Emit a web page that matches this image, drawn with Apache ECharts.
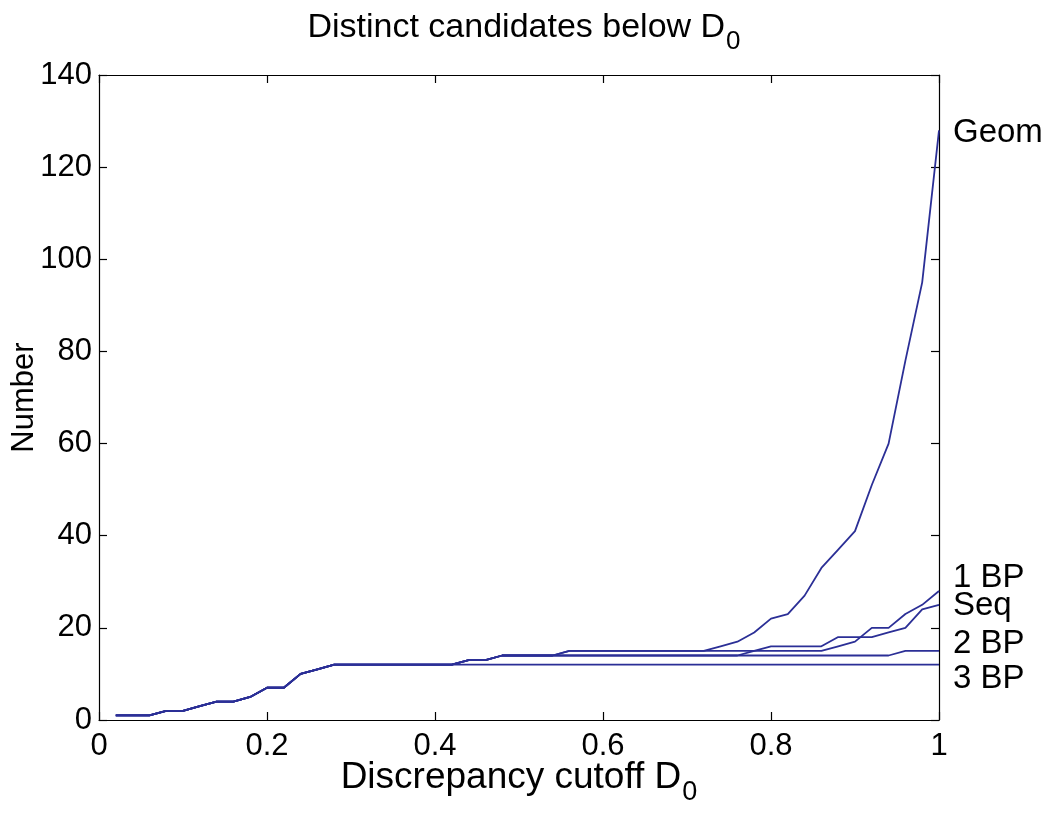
<!DOCTYPE html>
<html>
<head>
<meta charset="utf-8">
<script src="https://cdn.jsdelivr.net/npm/echarts@6/dist/echarts.min.js"></script>
<style>html,body{margin:0;padding:0;background:#fff}#c{width:1050px;height:819px}</style>
</head>
<body>
<div id="c"></div>
<script>
const cutoffs = [0.02,0.04,0.06,0.08,0.10,0.12,0.14,0.16,0.18,0.20,0.22,0.24,0.26,0.28,0.30,0.32,0.34,0.36,0.38,0.40,0.42,0.44,0.46,0.48,0.50,0.52,0.54,0.56,0.58,0.60,0.62,0.64,0.66,0.68,0.70,0.72,0.74,0.76,0.78,0.80,0.82,0.84,0.86,0.88,0.90,0.92,0.94,0.96,0.98,1.00];
const geom = [1,1,1,2,2,3,4,4,5,7,7,10,11,12,12,12,12,12,12,12,12,13,13,14,14,14,14,15,15,15,15,15,15,15,15,15,16,17,19,22,23,27,33,37,41,51,60,78,95,128];
const bp1  = [1,1,1,2,2,3,4,4,5,7,7,10,11,12,12,12,12,12,12,12,12,13,13,14,14,14,14,15,15,15,15,15,15,15,15,15,15,15,15,15,15,15,15,16,17,20,20,23,25,28];
const seq  = [1,1,1,2,2,3,4,4,5,7,7,10,11,12,12,12,12,12,12,12,12,13,13,14,14,14,14,14,14,14,14,14,14,14,14,14,14,14,15,16,16,16,16,18,18,18,19,20,24,25];
const bp2  = [1,1,1,2,2,3,4,4,5,7,7,10,11,12,12,12,12,12,12,12,12,13,13,14,14,14,14,14,14,14,14,14,14,14,14,14,14,14,14,14,14,14,14,14,14,14,14,15,15,15];
const bp3  = [1,1,1,2,2,3,4,4,5,7,7,10,11,12,12,12,12,12,12,12,12,12,12,12,12,12,12,12,12,12,12,12,12,12,12,12,12,12,12,12,12,12,12,12,12,12,12,12,12,12];
const seriesNames = ['Geom','1 BP','Seq','2 BP','3 BP'];
const xTicks = [0,0.2,0.4,0.6,0.8,1];
const yTicks = [0,20,40,60,80,100,120,140];

const FONT = 'Liberation Sans';
const COLOR = '#2b2f96';
const labelOffsets = [[0,3],[0,-13],[0,1],[0,-7],[0,14]];
const allData = [geom,bp1,seq,bp2,bp3];

const chart = echarts.init(document.getElementById('c'), null, {renderer:'canvas'});
function mkTick(){return {show:true,inside:true,length:8,lineStyle:{color:'#000',width:1.2}};}
function mkLine(){return {show:true,onZero:false,lineStyle:{color:'#000',width:1.2}};}
const option = {
  animation:false,
  backgroundColor:'#fff',
  title:{
    text:'{a|Distinct candidates below D}{s|0}',
    left:519, top:-4, textAlign:'center',
    textStyle:{rich:{
      a:{fontFamily:FONT,fontSize:34,fontWeight:'normal',color:'#000'},
      s:{fontFamily:FONT,fontSize:26,fontWeight:'normal',color:'#000',padding:[28,0,0,1]}
    }}
  },
  grid:{left:99,right:111,top:75,bottom:99,containLabel:false,outerBoundsMode:'none'},
  xAxis:[{
    type:'value',min:0,max:1,interval:0.2,position:'bottom',
    axisLine:mkLine(),splitLine:{show:false},
    axisTick:mkTick(),
    axisLabel:{fontFamily:FONT,fontSize:31,color:'#000',margin:11,
      formatter:v=>{const t=xTicks.find(k=>Math.abs(k-v)<1e-9);return t===undefined?'':String(t);}},
    name:'{a|Discrepancy cutoff D}{s|0}',nameLocation:'middle',nameGap:29,nameMoveOverlap:false,
    nameTextStyle:{rich:{
      a:{fontFamily:FONT,fontSize:37,color:'#000'},
      s:{fontFamily:FONT,fontSize:27,color:'#000',padding:[30,0,0,1]}
    }}
  },{
    type:'value',min:0,max:1,interval:0.2,position:'top',
    axisLine:mkLine(),splitLine:{show:false},
    axisTick:mkTick(),
    axisLabel:{show:false}
  }],
  yAxis:[{
    type:'value',min:0,max:140,interval:20,position:'left',
    axisLine:mkLine(),splitLine:{show:false},
    axisTick:mkTick(),
    axisLabel:{fontFamily:FONT,fontSize:31,color:'#000',margin:7,
      formatter:v=>yTicks.indexOf(v)>=0?String(v):''},
    name:'Number',nameLocation:'middle',nameGap:59,nameMoveOverlap:false,
    nameTextStyle:{fontFamily:FONT,fontSize:31,color:'#000'}
  },{
    type:'value',min:0,max:140,interval:20,position:'right',
    axisLine:mkLine(),splitLine:{show:false},
    axisTick:mkTick(),
    axisLabel:{show:false}
  }],
  series: seriesNames.map((name,i)=>({
    name:name,type:'line',xAxisIndex:0,yAxisIndex:0,
    data:cutoffs.map((x,j)=>[x,allData[i][j]]),
    showSymbol:false,symbol:'none',
    lineStyle:{color:COLOR,width:1.8},
    itemStyle:{color:COLOR},
    z:2,
    endLabel:{show:true,formatter:name,fontFamily:FONT,fontSize:33,color:'#000',
      distance:14,offset:labelOffsets[i]}
  }))
};
chart.setOption(option);
</script>
</body>
</html>
